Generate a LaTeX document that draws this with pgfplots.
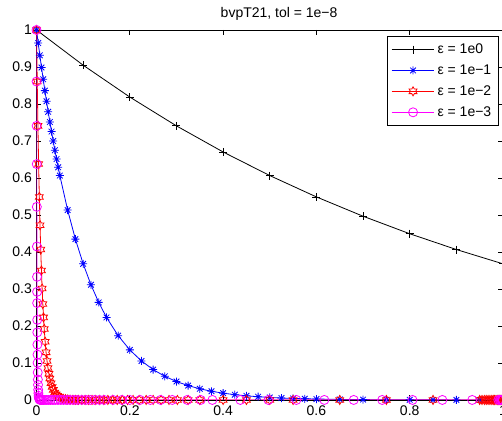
\documentclass[border=0pt]{standalone}
\usepackage{fontspec}
\setmainfont{Liberation Sans}
\usepackage{pgfplots}
\pgfplotsset{compat=1.18}
\definecolor{mag}{rgb}{1,0,1}
\definecolor{mblue}{rgb}{0,0,1}
\definecolor{mred}{rgb}{1,0,0}

\pgfdeclareplotmark{mstar}{%
 \pgfpathmoveto{\pgfqpoint{-\pgfplotmarksize}{0pt}}\pgfpathlineto{\pgfqpoint{\pgfplotmarksize}{0pt}}%
 \pgfpathmoveto{\pgfqpoint{0pt}{-\pgfplotmarksize}}\pgfpathlineto{\pgfqpoint{0pt}{\pgfplotmarksize}}%
 \pgfpathmoveto{\pgfpoint{-0.7071\pgfplotmarksize}{-0.7071\pgfplotmarksize}}\pgfpathlineto{\pgfpoint{0.7071\pgfplotmarksize}{0.7071\pgfplotmarksize}}%
 \pgfpathmoveto{\pgfpoint{-0.7071\pgfplotmarksize}{0.7071\pgfplotmarksize}}\pgfpathlineto{\pgfpoint{0.7071\pgfplotmarksize}{-0.7071\pgfplotmarksize}}%
 \pgfusepathqstroke}
\pgfdeclareplotmark{hexagram}{%
 \pgfpathmoveto{\pgfpointpolar{90}{\pgfplotmarksize}}%
 \pgfpathlineto{\pgfpointpolar{120}{0.577\pgfplotmarksize}}%
 \pgfpathlineto{\pgfpointpolar{150}{\pgfplotmarksize}}%
 \pgfpathlineto{\pgfpointpolar{180}{0.577\pgfplotmarksize}}%
 \pgfpathlineto{\pgfpointpolar{210}{\pgfplotmarksize}}%
 \pgfpathlineto{\pgfpointpolar{240}{0.577\pgfplotmarksize}}%
 \pgfpathlineto{\pgfpointpolar{270}{\pgfplotmarksize}}%
 \pgfpathlineto{\pgfpointpolar{300}{0.577\pgfplotmarksize}}%
 \pgfpathlineto{\pgfpointpolar{330}{\pgfplotmarksize}}%
 \pgfpathlineto{\pgfpointpolar{0}{0.577\pgfplotmarksize}}%
 \pgfpathlineto{\pgfpointpolar{30}{\pgfplotmarksize}}%
 \pgfpathlineto{\pgfpointpolar{60}{0.577\pgfplotmarksize}}%
 \pgfpathclose\pgfusepathqstroke}

\begin{document}
\begin{tikzpicture}
\begin{axis}[
  scale only axis,
  width=349.9pt, height=277.5pt,
  xmin=0, xmax=1, ymin=0, ymax=1,
  xtick={0,0.2,0.4,0.6,0.8,1},
  ytick={0,0.1,0.2,0.3,0.4,0.5,0.6,0.7,0.8,0.9,1},
  tick align=inside,
  major tick length=3.5pt,
  /pgf/number format/assume math mode=true,
  /pgf/number format/fixed,
  tick label style={font=\fontsize{10.5}{12.6}\selectfont},
  xticklabel style={yshift=-1pt},
  axis line style={line width=0.6pt},
  every tick/.style={line width=0.5pt, black},
  title={bvpT21, tol = 1e−8},
  title style={at={(0.52,1)}, anchor=south, yshift=-2pt, font=\fontsize{10.5}{12.6}\selectfont},
  legend style={at={(0.99,0.984)}, anchor=north east, draw=black, fill=white,
    font=\fontsize{10.5}{12.6}\selectfont, line width=0.6pt,
    inner xsep=3pt, inner ysep=3.5pt, row sep=2.9pt},
  legend cell align=left,
  legend image code/.code={\draw[mark repeat=2,mark phase=2] plot coordinates {(0cm,0cm) (0.565cm,0cm) (1.13cm,0cm)};},
]
\addplot[black, line width=0.6pt, mark=+, mark size=3pt, mark options={solid}] coordinates {
(0,1) (0.1,0.9048) (0.2,0.8187) (0.3,0.7408) (0.4,0.6703) (0.5,0.6065)
(0.6,0.5488) (0.7,0.4966) (0.8,0.4493) (0.9,0.4066) (1.0,0.3679)};
\addlegendentry{ε = 1e0}
\addplot[mblue, line width=0.6pt, mark=mstar, mark size=3pt] coordinates {
(0,1) (0.0036,0.9646) (0.0071,0.9315) (0.0107,0.8985) (0.0143,0.8668) (0.0179,0.8361)
(0.0214,0.8073) (0.025,0.7788) (0.0286,0.7513) (0.0321,0.7254) (0.0357,0.6998)
(0.0393,0.6750) (0.0429,0.6512) (0.0464,0.6288) (0.05,0.6065) (0.0667,0.5132)
(0.0833,0.4347) (0.1,0.3679) (0.1167,0.3113) (0.1333,0.2637) (0.15,0.2231)
(0.175,0.1738) (0.2,0.1353) (0.225,0.1054) (0.25,0.0821) (0.275,0.0639) (0.3,0.0498)
(0.325,0.0388) (0.35,0.0302) (0.375,0.0235) (0.4,0.0183) (0.425,0.0143) (0.45,0.0111)
(0.475,0.0087) (0.5,0.0067) (0.525,0.0052) (0.55,0.0041) (0.575,0.0032) (0.6,0.0025)
(0.65,0.0015) (0.7,0.0009) (0.75,0.0006) (0.8,0.0003) (0.85,0.0002) (0.9,0.0001)
(0.95,0.0001) (1.0,0)};
\addlegendentry{ε = 1e−1}
\addplot[mred, line width=0.6pt, mark=hexagram, mark size=3.4pt] coordinates {
(0,1) (0.0015,0.8607) (0.003,0.7408) (0.0045,0.6376) (0.006,0.5488) (0.0075,0.4724)
(0.009,0.4066) (0.0105,0.3499) (0.012,0.3012) (0.0135,0.2592) (0.015,0.2231)
(0.0165,0.1920) (0.0185,0.1572) (0.0205,0.1287) (0.0225,0.1054) (0.0245,0.0863)
(0.0265,0.0707) (0.0285,0.0578) (0.031,0.0450) (0.0335,0.0351) (0.036,0.0273)
(0.039,0.0202) (0.042,0.0150) (0.045,0.0111) (0.049,0.0074) (0.053,0.0050)
(0.057,0.0033) (0.062,0.0020) (0.067,0.0012) (0.072,0.0007) (0.078,0.0004)
(0.084,0.0002) (0.09,0.0001) (0.097,0.0001) (0.104,0) (0.111,0) (0.119,0) (0.127,0)
(0.135,0) (0.144,0) (0.153,0) (0.163,0) (0.173,0) (0.184,0) (0.195,0) (0.207,0)
(0.22,0) (0.235,0) (0.25,0) (0.267,0) (0.284,0) (0.302,0) (0.325,0) (0.35,0)
(0.4,0) (0.45,0) (0.5,0) (0.55,0) (0.65,0) (0.75,0) (0.85,0) (0.95,0) (0.955,0)
(0.96,0) (0.964,0) (0.968,0) (0.972,0) (0.976,0) (0.979,0) (0.982,0) (0.985,0)
(0.988,0) (0.99,0) (0.992,0) (0.994,0) (0.996,0) (0.998,0) (1.0,0)};
\addlegendentry{ε = 1e−2}
\addplot[mag, line width=0.6pt, mark=o, mark size=3.4pt] coordinates {
(0,1) (0.00015,0.8607) (0.0003,0.7408) (0.00045,0.6376) (0.00065,0.5220)
(0.00088,0.4148) (0.0011,0.3329) (0.00123,0.2923) (0.00134,0.2619) (0.00153,0.2165)
(0.0017,0.1827) (0.0019,0.1496) (0.0021,0.1225) (0.0023,0.1003) (0.0026,0.0743)
(0.0029,0.0550) (0.0032,0.0408) (0.0036,0.0273) (0.004,0.0183) (0.0045,0.0111)
(0.005,0.0067) (0.0056,0.0037) (0.0063,0.0018) (0.007,0.0009) (0.008,0.0003)
(0.009,0.0001) (0.01,0) (0.012,0) (0.015,0) (0.018,0) (0.022,0) (0.026,0) (0.03,0)
(0.035,0) (0.04,0) (0.046,0) (0.052,0) (0.058,0) (0.065,0) (0.072,0) (0.08,0)
(0.088,0) (0.097,0) (0.106,0) (0.115,0) (0.125,0) (0.135,0) (0.145,0) (0.164,0)
(0.183,0) (0.2,0) (0.222,0) (0.244,0) (0.266,0) (0.291,0) (0.323,0) (0.352,0)
(0.377,0) (0.437,0) (0.497,0) (0.557,0) (0.617,0) (0.68,0) (0.741,0) (0.806,0)
(0.87,0) (0.934,0) (0.99,0) (0.993,0) (0.995,0) (0.997,0) (0.998,0) (0.999,0) (1.0,0)};
\addlegendentry{ε = 1e−3}
\end{axis}
\pgfresetboundingbox
\path[use as bounding box] ([xshift=-27.4pt,yshift=-15.75pt]current axis.south west) rectangle ([xshift=-0.75pt,yshift=22.5pt]current axis.north east);
\end{tikzpicture}
\end{document}
